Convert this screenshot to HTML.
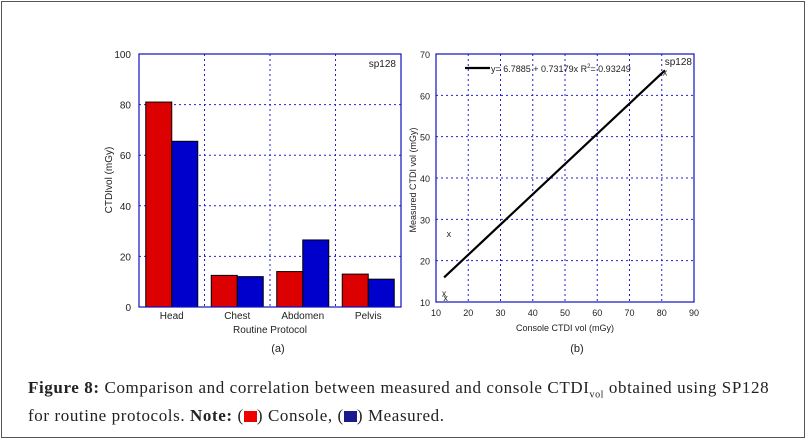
<!DOCTYPE html>
<html><head><meta charset="utf-8"><style>
body{margin:0;width:811px;height:442px;background:#fff;overflow:hidden;position:relative;font-family:"Liberation Sans",sans-serif}
#frame{position:absolute;left:1px;top:1px;width:804px;height:437px;border:1px solid #555;box-sizing:border-box}
#cap{position:absolute;left:28px;top:377px;width:790px;font-family:"Liberation Serif",serif;font-size:17px;line-height:21px;color:#222;letter-spacing:0.6px;white-space:nowrap}
.sw{display:inline-block;width:13px;height:11px;vertical-align:-1px}
</style></head><body>
<div id="frame"></div>
<svg id="svg" width="811" height="442" style="position:absolute;left:0;top:0" font-family="Liberation Sans, sans-serif"></svg>
<div id="cap"><b>Figure 8:</b> Comparison and correlation between measured and console CTDI<sub style="font-size:10px">vol</sub> obtained using SP128<br>for routine protocols. <b>Note:</b> (<span class="sw" style="background:#e00"></span>) Console, (<span class="sw" style="background:#1a1a8c"></span>) Measured.</div>
<script>
const categories=["Head","Chest","Abdomen","Pelvis"];
const consoleVals=[81,12.5,14,13];
const measuredVals=[65.5,12,26.5,11];
const yTicksA=[0,20,40,60,80,100];
const xTicksB=[10,20,30,40,50,60,70,80,90];
const yTicksB=[10,20,30,40,50,60,70];
const fitIntercept=6.7885, fitSlope=0.73179;
const svg=document.getElementById('svg');
const NS='http://www.w3.org/2000/svg';
function mk(t,a,txt){const e=document.createElementNS(NS,t);for(const k in a)e.setAttribute(k,a[k]);if(txt!==undefined)e.textContent=txt;svg.appendChild(e);return e;}
// Chart A
const aL=139,aR=401,aT=54,aB=307;
const ya=v=>aB-(v/100)*(aB-aT);
const cw=(aR-aL)/categories.length;
yTicksA.forEach(t=>{
 if(t>0&&t<100){const g=mk('line',{x1:aL,x2:aR,y1:ya(t),y2:ya(t),stroke:'#2020d0','stroke-dasharray':'2,3','stroke-width':1});}
 const l=mk('text',{x:aL-8,y:ya(t)+4,'text-anchor':'end','font-size':10,fill:'#222'},t);
 
});
for(let i=1;i<categories.length;i++){const g=mk('line',{x1:aL+i*cw,x2:aL+i*cw,y1:aT,y2:aB,stroke:'#2020d0','stroke-dasharray':'2,3'});}
categories.forEach((c,i)=>{
 const cx=aL+(i+0.5)*cw;
 const r=mk('rect',{x:cx-26,y:ya(consoleVals[i]),width:26,height:aB-ya(consoleVals[i]),fill:'#dd0000',stroke:'#000','stroke-width':1});
 
 const b=mk('rect',{x:cx,y:ya(measuredVals[i]),width:26,height:aB-ya(measuredVals[i]),fill:'#0000cc',stroke:'#000','stroke-width':1});
 
 const t=mk('text',{x:cx,y:aB+12,'text-anchor':'middle','font-size':10,fill:'#222'},c);
 
});
let e=mk('rect',{x:aL,y:aT,width:aR-aL,height:aB-aT,fill:'none',stroke:'#1010c0','stroke-width':1.2});
e=mk('text',{x:396,y:67,'text-anchor':'end','font-size':10,fill:'#222'},'sp128');
e=mk('text',{x:270,y:333,'text-anchor':'middle','font-size':10,fill:'#222'},'Routine Protocol');
e=mk('text',{x:0,y:0,'text-anchor':'middle','font-size':10,fill:'#222',transform:'translate(112,180) rotate(-90)'},'CTDIvol (mGy)');
e=mk('text',{x:278,y:352,'text-anchor':'middle','font-size':11,fill:'#222'},'(a)');
// Chart B
const bL=436,bR=694,bT=54,bB=302;
const xb=v=>bL+(v-10)/80*(bR-bL), yb=v=>bB-(v-10)/60*(bB-bT);
xTicksB.forEach(t=>{
 if(t>10&&t<90){const g=mk('line',{x1:xb(t),x2:xb(t),y1:bT,y2:bB,stroke:'#2020d0','stroke-dasharray':'2,3'});}
 const l=mk('text',{x:xb(t),y:bB+14,'text-anchor':'middle','font-size':9,fill:'#222'},t);
});
yTicksB.forEach(t=>{
 if(t>10&&t<70){const g=mk('line',{x1:bL,x2:bR,y1:yb(t),y2:yb(t),stroke:'#2020d0','stroke-dasharray':'2,3'});}
 const l=mk('text',{x:bL-6,y:yb(t)+4,'text-anchor':'end','font-size':9,fill:'#222'},t);
});
e=mk('rect',{x:bL,y:bT,width:bR-bL,height:bB-bT,fill:'none',stroke:'#1010c0','stroke-width':1.2});
const xmin=Math.min(...consoleVals),xmax=Math.max(...consoleVals);
e=mk('line',{x1:xb(xmin),y1:yb(fitIntercept+fitSlope*xmin),x2:xb(xmax),y2:yb(fitIntercept+fitSlope*xmax),stroke:'#000','stroke-width':2.2});
consoleVals.forEach((c,i)=>{
 const p=mk('text',{x:xb(c),y:yb(measuredVals[i])+3,'text-anchor':'middle','font-size':9,fill:'#222'},'x');
 
});
e=mk('line',{x1:465,x2:490,y1:68,y2:68,stroke:'#000','stroke-width':2.2});
e=mk('text',{x:491,y:72,'font-size':9,fill:'#222'});e.innerHTML='y= 6.7885 + 0.73179x  R<tspan font-size="6" dy="-4">2</tspan><tspan dy="4">= 0.93249</tspan>';
e=mk('text',{x:692,y:65,'text-anchor':'end','font-size':10,fill:'#222'},'sp128');
e=mk('text',{x:565,y:331,'text-anchor':'middle','font-size':9,fill:'#222'},'Console CTDI vol (mGy)');
e=mk('text',{x:0,y:0,'text-anchor':'middle','font-size':9,fill:'#222',transform:'translate(416,180) rotate(-90)'},'Measured CTDI vol (mGy)');
e=mk('text',{x:577,y:352,'text-anchor':'middle','font-size':11,fill:'#222'},'(b)');
</script>
</body></html>
